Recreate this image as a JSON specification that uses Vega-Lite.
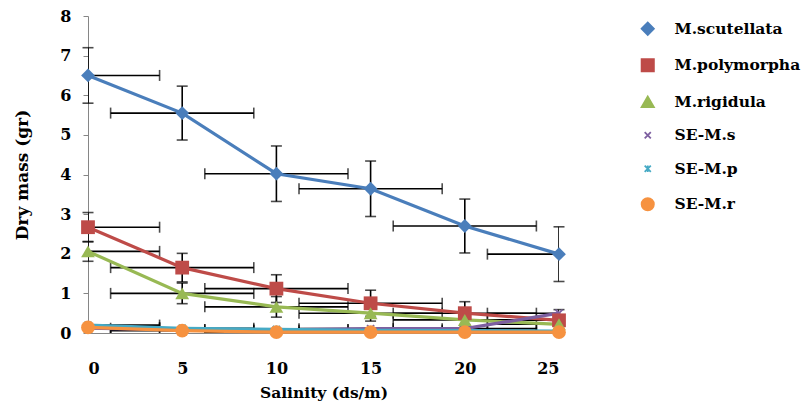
{
  "$schema": "https://vega.github.io/schema/vega-lite/v6.json",
  "width": 471,
  "height": 317,
  "autosize": "none",
  "padding": {"left": 88, "top": 16, "right": 247, "bottom": 71},
  "background": "white",
  "config": {
    "view": {"stroke": null},
    "font": "DejaVu Serif",
    "axisX": {"grid": false, "domainColor": "#868686", "domainWidth": 1, "tickSize": 0, "labelFont": "DejaVu Serif", "labelFontSize": 16, "labelFontWeight": "bold", "labelColor": "black", "labelPadding": 27, "titleFont": "DejaVu Serif", "titleFontSize": 15.5, "titleFontWeight": "bold", "titleColor": "black", "titlePadding": 9, "labelOverlap": false},
    "axisY": {"grid": false, "domainColor": "#868686", "domainWidth": 1, "tickSize": 5, "tickColor": "#868686", "tickCount": 8, "values": [0, 1, 2, 3, 4, 5, 6, 7, 8], "labelFont": "DejaVu Serif", "labelFontSize": 16, "labelFontWeight": "bold", "labelColor": "black", "labelPadding": 12, "titleFont": "DejaVu Serif", "titleFontSize": 17, "titleFontWeight": "bold", "titleColor": "black", "titlePadding": 28, "labelOverlap": false}
  },
  "datasets": {
    "main": [
      {"s": "M.scutellata", "x": 0, "y": 6.5}, {"s": "M.scutellata", "x": 5, "y": 5.55}, {"s": "M.scutellata", "x": 10, "y": 4.02}, {"s": "M.scutellata", "x": 15, "y": 3.64}, {"s": "M.scutellata", "x": 20, "y": 2.7}, {"s": "M.scutellata", "x": 25, "y": 1.99},
      {"s": "M.polymorpha", "x": 0, "y": 2.67}, {"s": "M.polymorpha", "x": 5, "y": 1.65}, {"s": "M.polymorpha", "x": 10, "y": 1.12}, {"s": "M.polymorpha", "x": 15, "y": 0.75}, {"s": "M.polymorpha", "x": 20, "y": 0.5}, {"s": "M.polymorpha", "x": 25, "y": 0.32},
      {"s": "M.rigidula", "x": 0, "y": 2.06}, {"s": "M.rigidula", "x": 5, "y": 1.0}, {"s": "M.rigidula", "x": 10, "y": 0.66}, {"s": "M.rigidula", "x": 15, "y": 0.5}, {"s": "M.rigidula", "x": 20, "y": 0.33}, {"s": "M.rigidula", "x": 25, "y": 0.22},
      {"s": "SE-M.s", "x": 0, "y": 0.12}, {"s": "SE-M.s", "x": 5, "y": 0.08}, {"s": "SE-M.s", "x": 10, "y": 0.08}, {"s": "SE-M.s", "x": 15, "y": 0.11}, {"s": "SE-M.s", "x": 20, "y": 0.11}, {"s": "SE-M.s", "x": 25, "y": 0.5},
      {"s": "SE-M.p", "x": 0, "y": 0.2}, {"s": "SE-M.p", "x": 5, "y": 0.12}, {"s": "SE-M.p", "x": 10, "y": 0.09}, {"s": "SE-M.p", "x": 15, "y": 0.07}, {"s": "SE-M.p", "x": 20, "y": 0.06}, {"s": "SE-M.p", "x": 25, "y": 0.05},
      {"s": "SE-M.r", "x": 0, "y": 0.14}, {"s": "SE-M.r", "x": 5, "y": 0.06}, {"s": "SE-M.r", "x": 10, "y": 0.02}, {"s": "SE-M.r", "x": 15, "y": 0.02}, {"s": "SE-M.r", "x": 20, "y": 0.02}, {"s": "SE-M.r", "x": 25, "y": 0.02}
    ],
    "verr": [
      {"s": "M.scutellata", "x": 0, "ylo": 5.8, "yhi": 7.2}, {"s": "M.scutellata", "x": 5, "ylo": 4.87, "yhi": 6.23}, {"s": "M.scutellata", "x": 10, "ylo": 3.32, "yhi": 4.72}, {"s": "M.scutellata", "x": 15, "ylo": 2.94, "yhi": 4.34}, {"s": "M.scutellata", "x": 20, "ylo": 2.02, "yhi": 3.38}, {"s": "M.scutellata", "x": 25, "ylo": 1.3, "yhi": 2.68},
      {"s": "M.polymorpha", "x": 0, "ylo": 2.3, "yhi": 3.04}, {"s": "M.polymorpha", "x": 5, "ylo": 1.29, "yhi": 2.01}, {"s": "M.polymorpha", "x": 10, "ylo": 0.77, "yhi": 1.47}, {"s": "M.polymorpha", "x": 15, "ylo": 0.42, "yhi": 1.08}, {"s": "M.polymorpha", "x": 20, "ylo": 0.21, "yhi": 0.79}, {"s": "M.polymorpha", "x": 25, "ylo": 0.05, "yhi": 0.59},
      {"s": "M.rigidula", "x": 0, "ylo": 1.81, "yhi": 2.31}, {"s": "M.rigidula", "x": 5, "ylo": 0.74, "yhi": 1.26}, {"s": "M.rigidula", "x": 10, "ylo": 0.4, "yhi": 0.92}, {"s": "M.rigidula", "x": 15, "ylo": 0.3, "yhi": 0.7}, {"s": "M.rigidula", "x": 20, "ylo": 0.15, "yhi": 0.51}, {"s": "M.rigidula", "x": 25, "ylo": 0.05, "yhi": 0.39}
    ],
    "herr": [
      {"s": "M.scutellata", "y": 6.5, "xlo": -3.8, "xhi": 3.8}, {"s": "M.scutellata", "y": 5.55, "xlo": 1.2, "xhi": 8.8}, {"s": "M.scutellata", "y": 4.02, "xlo": 6.2, "xhi": 13.8}, {"s": "M.scutellata", "y": 3.64, "xlo": 11.2, "xhi": 18.8}, {"s": "M.scutellata", "y": 2.7, "xlo": 16.2, "xhi": 23.8}, {"s": "M.scutellata", "y": 1.99, "xlo": 21.2, "xhi": 28.8},
      {"s": "M.polymorpha", "y": 2.67, "xlo": -3.8, "xhi": 3.8}, {"s": "M.polymorpha", "y": 1.65, "xlo": 1.2, "xhi": 8.8}, {"s": "M.polymorpha", "y": 1.12, "xlo": 6.2, "xhi": 13.8}, {"s": "M.polymorpha", "y": 0.75, "xlo": 11.2, "xhi": 18.8}, {"s": "M.polymorpha", "y": 0.5, "xlo": 16.2, "xhi": 23.8}, {"s": "M.polymorpha", "y": 0.32, "xlo": 21.2, "xhi": 28.8},
      {"s": "M.rigidula", "y": 2.06, "xlo": -3.8, "xhi": 3.8}, {"s": "M.rigidula", "y": 1.0, "xlo": 1.2, "xhi": 8.8}, {"s": "M.rigidula", "y": 0.66, "xlo": 6.2, "xhi": 13.8}, {"s": "M.rigidula", "y": 0.5, "xlo": 11.2, "xhi": 18.8}, {"s": "M.rigidula", "y": 0.33, "xlo": 16.2, "xhi": 23.8}, {"s": "M.rigidula", "y": 0.22, "xlo": 21.2, "xhi": 28.8},
      {"s": "SE-M.s", "y": 0.12, "xlo": -3.8, "xhi": 3.8}, {"s": "SE-M.s", "y": 0.08, "xlo": 1.2, "xhi": 8.8}, {"s": "SE-M.s", "y": 0.08, "xlo": 6.2, "xhi": 13.8}, {"s": "SE-M.s", "y": 0.11, "xlo": 11.2, "xhi": 18.8}, {"s": "SE-M.s", "y": 0.11, "xlo": 16.2, "xhi": 23.8}, {"s": "SE-M.s", "y": 0.5, "xlo": 21.2, "xhi": 28.8},
      {"s": "SE-M.p", "y": 0.2, "xlo": -3.8, "xhi": 3.8}, {"s": "SE-M.p", "y": 0.12, "xlo": 1.2, "xhi": 8.8}, {"s": "SE-M.p", "y": 0.09, "xlo": 6.2, "xhi": 13.8}, {"s": "SE-M.p", "y": 0.07, "xlo": 11.2, "xhi": 18.8}, {"s": "SE-M.p", "y": 0.06, "xlo": 16.2, "xhi": 23.8}, {"s": "SE-M.p", "y": 0.05, "xlo": 21.2, "xhi": 28.8},
      {"s": "SE-M.r", "y": 0.14, "xlo": -3.8, "xhi": 3.8}, {"s": "SE-M.r", "y": 0.06, "xlo": 1.2, "xhi": 8.8}, {"s": "SE-M.r", "y": 0.02, "xlo": 6.2, "xhi": 13.8}, {"s": "SE-M.r", "y": 0.02, "xlo": 11.2, "xhi": 18.8}, {"s": "SE-M.r", "y": 0.02, "xlo": 16.2, "xhi": 23.8}, {"s": "SE-M.r", "y": 0.02, "xlo": 21.2, "xhi": 28.8}
    ]
  },
  "layer": [
    {
      "data": {"name": "herr"},
      "mark": {"type": "rule", "color": "black", "strokeWidth": 1.6, "clip": true},
      "encoding": {
        "x": {"field": "xlo", "type": "quantitative", "scale": {"domain": [0, 25], "nice": false}, "title": "Salinity (ds/m)", "axis": {"values": [0, 5, 10, 15, 20, 25]}},
        "x2": {"field": "xhi"},
        "y": {"field": "y", "type": "quantitative", "scale": {"domain": [0, 8], "nice": false}, "title": "Dry mass (gr)"}
      }
    },
    {
      "data": {"name": "herr"},
      "mark": {"type": "tick", "orient": "vertical", "color": "black", "size": 11, "thickness": 1.6, "clip": true},
      "encoding": {
        "x": {"field": "xlo", "type": "quantitative", "title": "Salinity (ds/m)"},
        "y": {"field": "y", "type": "quantitative", "title": "Dry mass (gr)"}
      }
    },
    {
      "data": {"name": "herr"},
      "mark": {"type": "tick", "orient": "vertical", "color": "black", "size": 11, "thickness": 1.6, "clip": true},
      "encoding": {
        "x": {"field": "xhi", "type": "quantitative", "title": "Salinity (ds/m)"},
        "y": {"field": "y", "type": "quantitative", "title": "Dry mass (gr)"}
      }
    },
    {
      "data": {"name": "verr"},
      "mark": {"type": "rule", "color": "black", "strokeWidth": 1.6, "clip": true},
      "encoding": {
        "x": {"field": "x", "type": "quantitative", "title": "Salinity (ds/m)"},
        "y": {"field": "ylo", "type": "quantitative", "title": "Dry mass (gr)"},
        "y2": {"field": "yhi"}
      }
    },
    {
      "data": {"name": "verr"},
      "mark": {"type": "tick", "orient": "horizontal", "color": "black", "size": 11, "thickness": 1.6},
      "encoding": {
        "x": {"field": "x", "type": "quantitative", "title": "Salinity (ds/m)"},
        "y": {"field": "ylo", "type": "quantitative", "title": "Dry mass (gr)"}
      }
    },
    {
      "data": {"name": "verr"},
      "mark": {"type": "tick", "orient": "horizontal", "color": "black", "size": 11, "thickness": 1.6},
      "encoding": {
        "x": {"field": "x", "type": "quantitative", "title": "Salinity (ds/m)"},
        "y": {"field": "yhi", "type": "quantitative", "title": "Dry mass (gr)"}
      }
    },
    {
      "data": {"name": "main"},
      "mark": {"type": "line", "strokeWidth": 3.2},
      "encoding": {
        "x": {"field": "x", "type": "quantitative", "title": "Salinity (ds/m)"},
        "y": {"field": "y", "type": "quantitative", "title": "Dry mass (gr)"},
        "color": {
          "field": "s", "type": "nominal",
          "scale": {"domain": ["M.scutellata", "M.polymorpha", "M.rigidula", "SE-M.s", "SE-M.p", "SE-M.r"], "range": ["#4A7EBB", "#BE4B48", "#98B954", "#7D5FA0", "#46AAC5", "#F69240"]},
          "legend": {
            "orient": "none", "legendX": 550, "legendY": 3, "padding": 2, "title": null,
            "labelFont": "DejaVu Serif", "labelFontSize": 15.5, "labelFontWeight": "bold", "labelColor": "black",
            "symbolSize": 150, "symbolStrokeWidth": 1.8, "labelOffset": 19, "rowPadding": 16.5, "symbolOpacity": 1
          }
        }
      }
    },
    {
      "data": {"name": "main"},
      "transform": [{"filter": {"field": "s", "oneOf": ["SE-M.s", "SE-M.p"]}}],
      "mark": {"type": "point", "filled": false, "strokeWidth": 1.8, "opacity": 1},
      "encoding": {
        "x": {"field": "x", "type": "quantitative", "title": "Salinity (ds/m)"},
        "y": {"field": "y", "type": "quantitative", "title": "Dry mass (gr)"},
        "color": {"field": "s", "type": "nominal", "legend": null},
        "shape": {"field": "s", "type": "nominal", "legend": null, "scale": {"domain": ["M.scutellata", "M.polymorpha", "M.rigidula", "SE-M.s", "SE-M.p", "SE-M.r"], "range": ["diamond", "square", "triangle-up", "M-0.5,-0.5L0.5,0.5M-0.5,0.5L0.5,-0.5", "M-0.5,-0.5L0.5,0.5M-0.5,0.5L0.5,-0.5M0,-0.55L0,0.55", "circle"]}},
        "size": {"value": 200}
      }
    },
    {
      "data": {"name": "main"},
      "transform": [{"filter": {"field": "s", "oneOf": ["M.scutellata", "M.polymorpha", "M.rigidula", "SE-M.r"]}}],
      "mark": {"type": "point", "filled": true, "opacity": 1},
      "encoding": {
        "x": {"field": "x", "type": "quantitative", "title": "Salinity (ds/m)"},
        "y": {"field": "y", "type": "quantitative", "title": "Dry mass (gr)"},
        "color": {"field": "s", "type": "nominal", "legend": null},
        "shape": {"field": "s", "type": "nominal", "legend": null},
        "size": {"value": 190}
      }
    }
  ]
}
